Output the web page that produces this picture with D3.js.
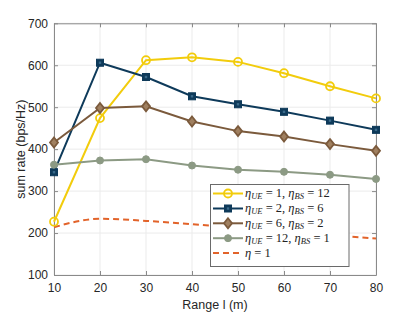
<!DOCTYPE html>
<html><head><meta charset="utf-8">
<script src="https://cdn.jsdelivr.net/npm/d3@7"></script>
<style>body{margin:0;background:#fff}svg{display:block}</style>
</head><body>
<script>
const ranges = [10, 20, 30, 40, 50, 60, 70, 80];
const yellowVals = [227, 474, 612, 619, 608, 581, 550, 521];
const blueVals   = [345, 606, 572, 526, 507, 489, 468, 446];
const brownVals  = [416, 498, 502, 466, 443, 430, 412, 396];
const greyVals   = [363, 373, 376, 361, 351, 346, 339, 329];
const etaVals    = [214, 234, 229, 221, 212, 204, 195, 187];
const yTicks = [100, 200, 300, 400, 500, 600, 700];
const xTicks = [10, 20, 30, 40, 50, 60, 70, 80];

const W = 415, H = 312;
const m = {l: 54, r: 39, t: 23.3, b: 37};
const svg = d3.select("body").append("svg").attr("width", W).attr("height", H);
const x = d3.scaleLinear().domain([10, 80]).range([m.l, W - m.r]);
const y = d3.scaleLinear().domain([100, 700]).range([H - m.b, m.t]);
const sans = "'Liberation Sans', Arial, sans-serif";

// grid
const g = svg.append("g");
g.selectAll(".gx").data(xTicks).join("line")
  .attr("x1", d => x(d)).attr("x2", d => x(d)).attr("y1", y(100)).attr("y2", y(700))
  .attr("stroke", "#ebebeb").attr("stroke-width", 1);
g.selectAll(".gy").data(yTicks).join("line")
  .attr("x1", x(10)).attr("x2", x(80)).attr("y1", d => y(d)).attr("y2", d => y(d))
  .attr("stroke", "#ebebeb").attr("stroke-width", 1);

// axes
const axStyle = sel => {
  sel.select(".domain").attr("stroke", "#8a8a8a");
  sel.selectAll(".tick line").attr("stroke", "#8a8a8a");
  sel.selectAll("text").attr("fill", "#262626").style("font-family", sans).style("font-size", "12px");
};
svg.append("g").attr("transform", `translate(0,${y(100)})`)
  .call(d3.axisBottom(x).tickValues(xTicks).tickSizeInner(-4).tickSizeOuter(0).tickPadding(8))
  .call(axStyle);
svg.append("g").attr("transform", `translate(${x(10)},0)`)
  .call(d3.axisLeft(y).tickValues(yTicks).tickSizeInner(-4).tickSizeOuter(0).tickPadding(6))
  .call(axStyle);
svg.append("g").attr("transform", `translate(0,${y(700)})`)
  .call(d3.axisTop(x).tickValues(xTicks).tickSizeInner(-4).tickSizeOuter(0).tickFormat(""))
  .call(axStyle);
svg.append("g").attr("transform", `translate(${x(80)},0)`)
  .call(d3.axisRight(y).tickValues(yTicks).tickSizeInner(-4).tickSizeOuter(0).tickFormat(""))
  .call(axStyle);

svg.append("text").attr("x", (x(10) + x(80)) / 2).attr("y", 309).attr("text-anchor", "middle")
  .style("font-family", sans).style("font-size", "12.5px").attr("fill", "#262626")
  .text("Range l (m)");
svg.append("text").attr("transform", `translate(25,${(y(100)+y(700))/2}) rotate(-90)`).attr("text-anchor", "middle")
  .style("font-family", sans).style("font-size", "12.5px").attr("fill", "#262626")
  .text("sum rate (bps/Hz)");

const series = [
  {vals: yellowVals, color: "#f2cc0c", marker: "circle", sub1: "UE", v1: "1", sub2: "BS", v2: "12"},
  {vals: blueVals, color: "#0e3a5a", marker: "square", sub1: "UE", v1: "2", sub2: "BS", v2: "6"},
  {vals: brownVals, color: "#7b5a3c", marker: "diamond", sub1: "UE", v1: "6", sub2: "BS", v2: "2"},
  {vals: greyVals, color: "#8c9a84", marker: "dot", sub1: "UE", v1: "12", sub2: "BS", v2: "1"},
];
const line = d3.line().x((d, i) => x(ranges[i])).y(d => y(d));
const line2 = d3.line().curve(d3.curveMonotoneX).x((d, i) => x(ranges[i])).y(d => y(d));

function drawMarker(sel, type, color, cx, cy) {
  if (type === "circle") {
    sel.append("circle").attr("cx", cx).attr("cy", cy).attr("r", 4).attr("fill", "none").attr("stroke", color).attr("stroke-width", 1.8);
  } else if (type === "square") {
    sel.append("rect").attr("x", cx - 3.5).attr("y", cy - 3.5).attr("width", 7).attr("height", 7).attr("fill", color).attr("stroke", color).attr("stroke-width", 1);
    sel.append("rect").attr("x", cx - 1.2).attr("y", cy - 1.2).attr("width", 2.4).attr("height", 2.4).attr("fill", "#3a6a8a");
  } else if (type === "diamond") {
    sel.append("path").attr("d", `M${cx},${cy-5}L${cx+4},${cy}L${cx},${cy+5}L${cx-4},${cy}Z`).attr("fill", "#a08060").attr("stroke", color).attr("stroke-width", 1.8);
  } else {
    sel.append("circle").attr("cx", cx).attr("cy", cy).attr("r", 3.5).attr("fill", color).attr("stroke", color).attr("stroke-width", 1);
  }
}

// eta=1 dashed
svg.append("path").attr("d", line2(etaVals)).attr("fill", "none").attr("stroke", "#e2632a")
  .attr("stroke-width", 2).attr("stroke-dasharray", "6,4");

series.forEach(s => {
  svg.append("path").attr("d", line(s.vals)).attr("fill", "none").attr("stroke", s.color).attr("stroke-width", 2);
});
series.forEach(s => {
  const mg = svg.append("g");
  s.vals.forEach((v, i) => drawMarker(mg, s.marker, s.color, x(ranges[i]), y(v)));
});

// legend
const lg = svg.append("g");
lg.append("rect").attr("x", 210.5).attr("y", 184.5).attr("width", 138.5).attr("height", 82)
  .attr("fill", "#fff").attr("stroke", "#6a6a6a").attr("stroke-width", 1);
const rowY = [193.5, 208.5, 223.3, 238.2, 253];
const mathFont = "'Liberation Serif', 'DejaVu Serif', serif";
series.forEach((s, i) => {
  lg.append("line").attr("x1", 213).attr("x2", 243).attr("y1", rowY[i]).attr("y2", rowY[i]).attr("stroke", s.color).attr("stroke-width", 2);
  drawMarker(lg, s.marker, s.color, 228, rowY[i]);
  const t = lg.append("text").attr("x", 245).attr("y", rowY[i] + 3.5).style("font-family", mathFont).style("font-size", "12.5px").attr("fill", "#222");
  t.append("tspan").style("font-style", "italic").text("η");
  t.append("tspan").style("font-style", "italic").style("font-size", "8.5px").attr("dy", 1.8).text(s.sub1);
  t.append("tspan").attr("dy", -1.8).text(" = " + s.v1 + ", ");
  t.append("tspan").style("font-style", "italic").text("η");
  t.append("tspan").style("font-style", "italic").style("font-size", "8.5px").attr("dy", 1.8).text(s.sub2);
  t.append("tspan").attr("dy", -1.8).text(" = " + s.v2);
});
lg.append("line").attr("x1", 213).attr("x2", 243).attr("y1", rowY[4]).attr("y2", rowY[4]).attr("stroke", "#e2632a").attr("stroke-width", 2).attr("stroke-dasharray", "6,4");
const t5 = lg.append("text").attr("x", 245).attr("y", rowY[4] + 3.5).style("font-family", mathFont).style("font-size", "12.5px").attr("fill", "#222");
t5.append("tspan").style("font-style", "italic").text("η");
t5.append("tspan").text(" = 1");
</script>
</body></html>
